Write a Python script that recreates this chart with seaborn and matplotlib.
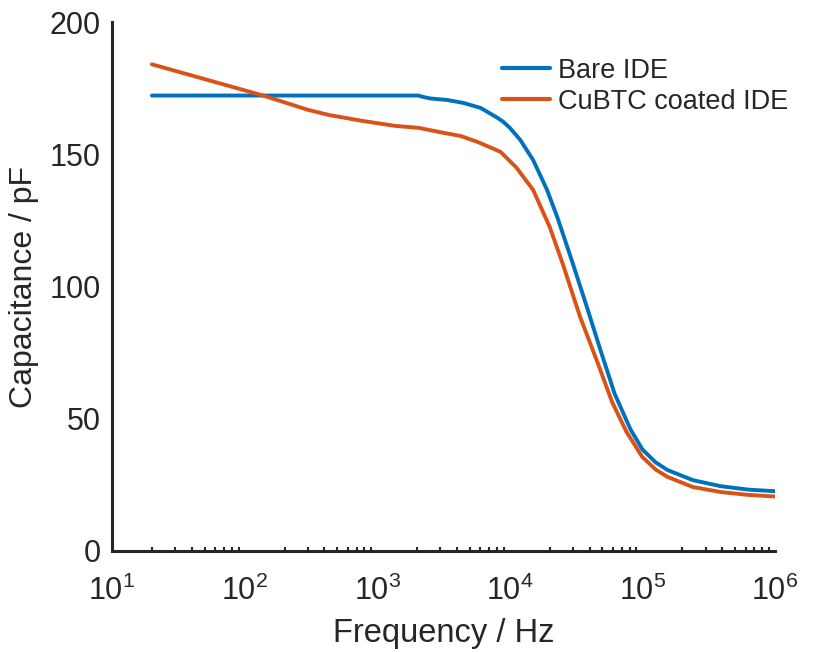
import matplotlib
matplotlib.use("Agg")
import matplotlib.pyplot as plt
import seaborn as sns
import pandas as pd
from matplotlib.ticker import LogLocator

bare_freq = [20, 2040, 2290, 2510, 3390, 4470, 6030, 7940, 8910, 10000, 12000, 15000,
             19100, 22900, 29500, 38000, 47900, 61700, 81300, 100000, 125900, 154900,
             239900, 389000, 631000, 1000000]
bare_cap = [172.2, 172.2, 171.5, 171.1, 170.5, 169.4, 167.5, 164.0, 162.3, 160.0, 155.4,
            147.8, 136.5, 126.0, 109.5, 92.5, 76.5, 59.5, 46.0, 38.4, 33.5, 30.6,
            26.8, 24.5, 23.2, 22.6]

cubtc_freq = [20, 138, 300, 437, 776, 1380, 2040, 3240, 4270, 5750, 7590, 8510, 11200,
              15000, 20000, 25100, 33900, 45700, 58900, 75900, 100000, 125900, 154900,
              239900, 389000, 631000, 1000000]
cubtc_cap = [184.0, 172.2, 166.8, 164.8, 162.6, 160.7, 160.0, 158.0, 156.9, 154.6, 152.0,
             150.9, 145.0, 136.5, 122.5, 108.5, 88.5, 71.5, 56.5, 45.0, 35.5, 30.8, 28.0,
             24.2, 22.3, 21.2, 20.6]

series_names = ["Bare IDE", "CuBTC coated IDE"]
colors = ["#0072BD", "#D95319"]

df = pd.concat([
    pd.DataFrame({"f": bare_freq, "C": bare_cap, "s": series_names[0]}),
    pd.DataFrame({"f": cubtc_freq, "C": cubtc_cap, "s": series_names[1]}),
])

sns.set_style("white")
plt.rcParams["font.family"] = ["Liberation Sans", "DejaVu Sans"]
plt.rcParams["mathtext.fontset"] = "custom"
plt.rcParams["mathtext.rm"] = "Liberation Sans"
plt.rcParams["mathtext.it"] = "Liberation Sans"

fig = plt.figure(figsize=(8.17, 6.52), dpi=100)
ax = fig.add_axes([112/817, 1-551/652, (775-112)/817, (551-22)/652])

sns.lineplot(data=df, x="f", y="C", hue="s", palette=colors, linewidth=2.8,
             ax=ax, sort=False, estimator=None)
ax.set_xscale("log")
ax.set_xlim(10, 1e6)
ax.set_ylim(0, 200)
ax.set_yticks([0, 50, 100, 150, 200])
ax.xaxis.set_major_locator(LogLocator(base=10, numticks=10))
ax.xaxis.set_minor_locator(LogLocator(base=10, subs=range(2, 10), numticks=20))

for s in ["top", "right"]:
    ax.spines[s].set_visible(False)
for s in ["left", "bottom"]:
    ax.spines[s].set_linewidth(2.2)
    ax.spines[s].set_color("#262626")

ax.tick_params(axis="both", which="major", direction="in", length=6, width=1.8,
               labelsize=22, colors="#262626")
ax.tick_params(axis="x", which="minor", direction="in", length=3, width=1.5,
               bottom=True, colors="#262626")
ax.tick_params(axis="x", which="major", pad=18)
ax.tick_params(axis="y", which="major", pad=8)

ax.set_xlabel("Frequency / Hz", fontsize=23.5, color="#262626", labelpad=8)
ax.set_ylabel("Capacitance / pF", fontsize=23, color="#262626", labelpad=8)

leg = ax.legend(loc="upper left", bbox_to_anchor=(488/817, 1-44/652),
                bbox_transform=fig.transFigure, frameon=False, borderpad=0,
                fontsize=19.5, handlelength=1.8, handletextpad=0.28, labelspacing=0.2)
for line in leg.get_lines():
    line.set_linewidth(3)

fig.savefig("out.png", dpi=100)
